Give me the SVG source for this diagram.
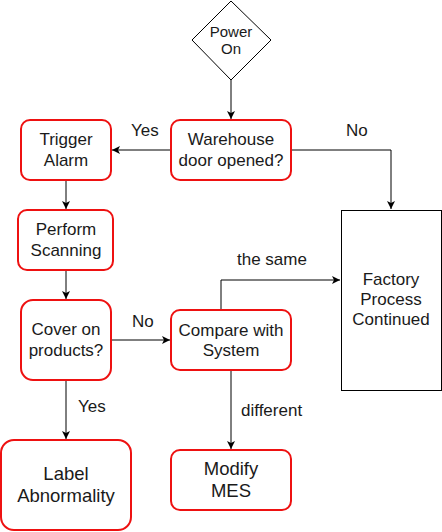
<svg xmlns="http://www.w3.org/2000/svg" width="442" height="532" viewBox="0 0 442 532">
<defs>
<marker id="arr" markerWidth="10" markerHeight="10" refX="8" refY="4" orient="auto" markerUnits="userSpaceOnUse">
<path d="M0,0 L8,4 L0,8 L2,4 Z" fill="#000"/>
</marker>
</defs>
<style>
text{font-family:"Liberation Sans",Arial,sans-serif;fill:#1a1a1a;text-anchor:middle;font-size:17px}
.box{fill:#fff;stroke:#ee1111;stroke-width:2}
.plain{fill:#fff;stroke:#000;stroke-width:1}
.big{font-size:18.5px}
.small{font-size:15px}
.lbl{text-anchor:start}
.conn{fill:none;stroke:#000;stroke-width:1;marker-end:url(#arr)}
</style>
<rect width="442" height="532" fill="#fff"/>
<g id="connectors">
<path class="conn" d="M231,80 V119"/>
<path class="conn" d="M171,150 H112"/>
<path class="conn" d="M291,150 H391 V209"/>
<path class="conn" d="M66,180 V209"/>
<path class="conn" d="M66,270 V299"/>
<path class="conn" d="M111,340 H170"/>
<path class="conn" d="M221,310 V280 H340"/>
<path class="conn" d="M231,370 V449"/>
<path class="conn" d="M66,380 V439"/>
<text class="lbl" x="131" y="136">Yes</text>
<text class="lbl" x="346" y="136">No</text>
<text class="lbl" x="132" y="327">No</text>
<text class="lbl" x="237" y="265">the same</text>
<text class="lbl" x="241" y="416">different</text>
<text class="lbl" x="78" y="412">Yes</text>
</g>
<g id="power-on">
<path class="plain" d="M231,1 L271,40 L231,80 L192,40 Z"/>
<text class="small" x="231" y="37">Power</text>
<text class="small" x="231" y="54">On</text>
</g>
<g id="warehouse">
<rect class="box" x="171" y="120" width="120" height="60" rx="9"/>
<text x="231" y="145">Warehouse</text>
<text x="231" y="166">door opened?</text>
</g>
<g id="trigger-alarm">
<rect class="box" x="21" y="120" width="90" height="60" rx="9"/>
<text x="66" y="145">Trigger</text>
<text x="66" y="166">Alarm</text>
</g>
<g id="perform-scanning">
<rect class="box" x="18" y="210" width="95" height="60" rx="9"/>
<text x="66" y="235">Perform</text>
<text x="66" y="256">Scanning</text>
</g>
<g id="cover">
<rect class="box" x="21" y="300" width="90" height="80" rx="12"/>
<text x="66" y="335">Cover on</text>
<text x="66" y="356">products?</text>
</g>
<g id="compare">
<rect class="box" x="171" y="310" width="120" height="60" rx="9"/>
<text x="231" y="336">Compare with</text>
<text x="231" y="356">System</text>
</g>
<g id="factory">
<rect class="plain" x="341.5" y="210.5" width="100" height="180"/>
<text x="391" y="285">Factory</text>
<text x="391" y="305">Process</text>
<text x="391" y="325">Continued</text>
</g>
<g id="modify-mes">
<rect class="box" x="171" y="450" width="120" height="60" rx="9"/>
<text class="big" x="231" y="475">Modify</text>
<text class="big" x="231" y="497">MES</text>
</g>
<g id="label-abnormality">
<rect class="box" x="1" y="440" width="130" height="90" rx="13"/>
<text class="big" x="66" y="480">Label</text>
<text class="big" x="66" y="502">Abnormality</text>
</g>
</svg>
